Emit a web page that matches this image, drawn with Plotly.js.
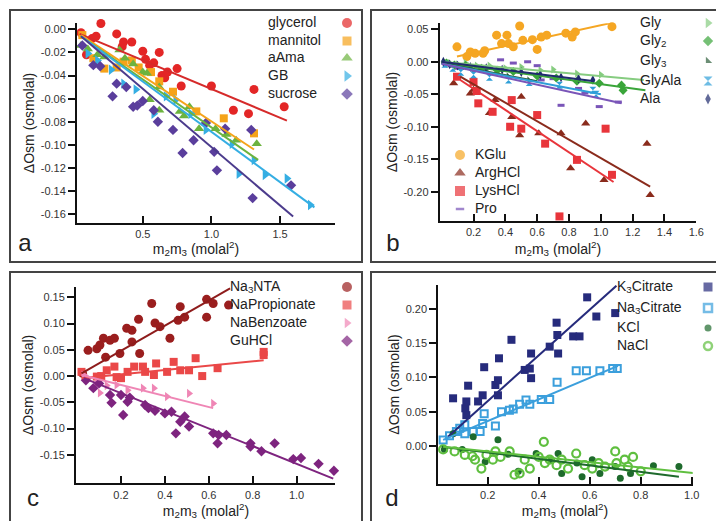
<!DOCTYPE html>
<html><head><meta charset="utf-8">
<script src="https://cdn.plot.ly/plotly-3.0.1.min.js"></script>
<style>html,body{margin:0;padding:0;background:#fff}#chart{width:716px;height:521px}</style>
</head><body><div id="chart"></div>
<script>
// ---------- Panel a ----------
const glycerolX=[0.05,0.09,0.13,0.16,0.195,0.31,0.35,0.36,0.42,0.5,0.52,0.55,0.58,0.62,0.64,0.66,0.68,0.75,0.78,1.0,1.16,1.27,1.31,1.53];
const glycerolY=[-0.003,-0.022,-0.008,-0.006,0.005,-0.004,-0.015,-0.011,-0.011,-0.019,-0.026,-0.031,-0.029,-0.020,-0.040,-0.042,-0.037,-0.034,-0.049,-0.049,-0.070,-0.073,-0.052,-0.067];
const glycerolFitX=[0.04,1.55], glycerolFitY=[-0.004,-0.079];
const mannitolX=[0.06,0.14,0.22,0.31,0.36,0.42,0.47,0.56,0.62,0.72,0.89,1.09,1.31];
const mannitolY=[-0.005,-0.025,-0.034,-0.033,-0.028,-0.027,-0.033,-0.037,-0.045,-0.054,-0.071,-0.077,-0.090];
const mannitolFitX=[0.05,1.31], mannitolFitY=[-0.005,-0.104];
const aAmaX=[0.05,0.1,0.17,0.22,0.33,0.37,0.43,0.5,0.53,0.55,0.62,0.62,0.77,0.8,0.84,0.91,1.03,1.11,1.18,1.33];
const aAmaY=[-0.014,-0.017,-0.022,-0.024,-0.018,-0.025,-0.030,-0.037,-0.038,-0.061,-0.050,-0.070,-0.071,-0.075,-0.067,-0.086,-0.086,-0.091,-0.096,-0.099];
const aAmaFitX=[0.05,1.34], aAmaFitY=[-0.006,-0.113];
const gbX=[0.1,0.17,0.27,0.36,0.45,0.58,0.67,0.74,0.85,0.96,1.15,1.2,1.31,1.39,1.55,1.72];
const gbY=[-0.021,-0.027,-0.035,-0.047,-0.052,-0.073,-0.058,-0.061,-0.073,-0.087,-0.099,-0.125,-0.113,-0.126,-0.129,-0.152];
const gbFitX=[0.05,1.75], gbFitY=[-0.006,-0.154];
const sucroseX=[0.06,0.14,0.19,0.28,0.31,0.38,0.43,0.46,0.5,0.58,0.61,0.72,0.79,0.87,0.96,1.02,1.04,1.10,1.29,1.30,1.58];
const sucroseY=[-0.014,-0.031,-0.032,-0.058,-0.047,-0.050,-0.067,-0.066,-0.062,-0.070,-0.080,-0.087,-0.107,-0.096,-0.081,-0.106,-0.122,-0.086,-0.087,-0.146,-0.135];
const sucroseFitX=[0.05,1.595], sucroseFitY=[-0.006,-0.162];
const aXTickVals=[0.5,1.0,1.5], aXTickText=['0.5','1.0','1.5'];
const aYTickVals=[0,-0.02,-0.04,-0.06,-0.08,-0.10,-0.12,-0.14,-0.16];
const aYTickText=['0.00','-0.02','-0.04','-0.06','-0.08','-0.10','-0.12','-0.14','-0.16'];

// ---------- Panel b ----------
const kgluX=[0.096,0.158,0.18,0.21,0.26,0.27,0.345,0.376,0.41,0.42,0.45,0.49,0.51,0.57,0.60,0.625,0.66,0.78,0.82,0.84,1.07];
const kgluY=[0.023,0.008,0.015,0.013,0.013,0.017,0.041,0.028,0.041,0.028,0.023,0.055,0.033,0.034,0.019,0.038,0.041,0.044,0.038,0.046,0.054];
const kgluFitX=[0.096,1.07], kgluFitY=[0.008,0.060];
const argX=[0.075,0.18,0.2,0.30,0.335,0.44,0.49,0.50,0.61,0.75,0.81,0.905,1.02,1.29,1.31];
const argY=[-0.033,-0.049,-0.043,-0.079,-0.059,-0.085,-0.113,-0.054,-0.11,-0.11,-0.164,-0.095,-0.182,-0.126,-0.205];
const argFitX=[0.117,1.31], argFitY=[-0.023,-0.192];
const lysX=[0.096,0.2,0.22,0.23,0.32,0.43,0.44,0.5,0.6,0.65,0.74,0.85,1.03,1.07];
const lysY=[-0.023,-0.031,-0.045,-0.064,-0.077,-0.100,-0.059,-0.103,-0.082,-0.126,-0.238,-0.151,-0.103,-0.174];
const lysFitX=[0.117,1.08], lysFitY=[-0.028,-0.185];
const proX=[0.02,0.06,0.1,0.15,0.2,0.3,0.37,0.45,0.54,0.6,0.625,0.7,0.75,0.86,0.9,0.99,1.11];
const proY=[-0.002,-0.006,-0.01,-0.004,-0.012,-0.01,0.003,-0.002,0.0,-0.006,-0.028,-0.026,-0.067,-0.041,-0.048,-0.069,-0.062];
const proFitX=[0.0,1.13], proFitY=[-0.003,-0.064];
const glyX=[0.02,0.05,0.1,0.15,0.22,0.3,0.4,0.5,0.62,0.7,0.85,1.0];
const glyY=[0.0,-0.002,-0.004,-0.002,-0.006,-0.006,-0.01,-0.008,-0.013,-0.012,-0.018,-0.02];
const glyFitX=[0.0,1.27], glyFitY=[0.0,-0.028];
const gly2X=[0.03,0.08,0.15,0.25,0.35,0.45,0.6,0.72,0.85,0.99,1.13,1.14];
const gly2Y=[-0.002,-0.005,-0.006,-0.01,-0.013,-0.015,-0.022,-0.025,-0.03,-0.033,-0.036,-0.044];
const gly2FitX=[0.0,1.28], gly2FitY=[-0.001,-0.044];
const gly3X=[0.02,0.06,0.12,0.2,0.3,0.42,0.55];
const gly3Y=[-0.003,-0.006,-0.01,-0.013,-0.018,-0.022,-0.028];
const gly3FitX=[0.0,0.6], gly3FitY=[-0.002,-0.030];
const glyalaX=[0.02,0.07,0.12,0.2,0.3,0.42,0.55,0.74,0.95,0.97];
const glyalaY=[-0.004,-0.01,-0.016,-0.02,-0.024,-0.028,-0.032,-0.036,-0.044,-0.05];
const glyalaFitX=[0.0,1.0], glyalaFitY=[-0.003,-0.05];
const alaX=[0.01,0.05,0.1,0.18,0.28,0.38,0.5,0.62,0.75,0.86,0.95];
const alaY=[0.0,-0.004,-0.006,-0.008,-0.01,-0.012,-0.016,-0.02,-0.024,-0.026,-0.028];
const alaFitX=[0.0,0.96], alaFitY=[0.0,-0.03];
const bXTickVals=[0.2,0.4,0.6,0.8,1.0,1.2,1.4,1.6], bXTickText=['0.2','0.4','0.6','0.8','1.0','1.2','1.4','1.6'];
const bYTickVals=[0.05,0,-0.05,-0.10,-0.15,-0.20], bYTickText=['0.05','0.00','-0.05','-0.10','-0.15','-0.20'];

// ---------- Panel c ----------
const ntaX=[0.025,0.05,0.09,0.104,0.12,0.13,0.15,0.17,0.195,0.226,0.25,0.25,0.28,0.285,0.34,0.355,0.378,0.423,0.46,0.47,0.49,0.59,0.59,0.62,0.69];
const ntaY=[0.005,0.049,0.052,0.059,0.072,0.036,0.068,0.072,0.043,0.091,0.087,0.065,0.108,0.043,0.138,0.101,0.094,0.072,0.106,0.132,0.112,0.146,0.112,0.138,0.135];
const ntaFitX=[0.02,0.697], ntaFitY=[0.005,0.167];
const propX=[0.02,0.09,0.11,0.135,0.17,0.18,0.2,0.23,0.26,0.30,0.31,0.35,0.36,0.41,0.44,0.47,0.51,0.54,0.57,0.64,0.85,0.85];
const propY=[0.008,-0.001,0.0,0.011,0.018,-0.002,-0.004,0.008,0.018,0.018,0.008,0.002,0.024,0.008,0.027,0.011,0.011,0.034,0.0,0.015,0.040,0.046];
const propFitX=[0.02,0.85], propFitY=[-0.004,0.030];
const benzX=[0.03,0.05,0.09,0.104,0.135,0.18,0.23,0.30,0.35,0.41,0.51,0.62];
const benzY=[0.002,-0.004,-0.014,-0.032,-0.018,-0.017,-0.027,-0.023,-0.023,-0.039,-0.033,-0.052];
const benzFitX=[0.02,0.62], benzFitY=[0.002,-0.061];
const guX=[0.04,0.074,0.1,0.15,0.157,0.2,0.21,0.23,0.24,0.31,0.325,0.355,0.4,0.43,0.45,0.47,0.49,0.51,0.62,0.64,0.645,0.68,0.79,0.79,0.84,0.9,0.985,1.02,1.1,1.17];
const guY=[-0.008,-0.023,-0.014,-0.036,-0.051,-0.036,-0.074,-0.049,-0.041,-0.055,-0.061,-0.066,-0.071,-0.068,-0.109,-0.087,-0.077,-0.096,-0.109,-0.128,-0.112,-0.112,-0.128,-0.134,-0.143,-0.128,-0.158,-0.156,-0.167,-0.180];
const guFitX=[0.03,1.167], guFitY=[-0.004,-0.195];
const cXTickVals=[0.2,0.4,0.6,0.8,1.0], cXTickText=['0.2','0.4','0.6','0.8','1.0'];
const cYTickVals=[0.15,0.10,0.05,0,-0.05,-0.10,-0.15], cYTickText=['0.15','0.10','0.05','0.00','-0.05','-0.10','-0.15'];

// ---------- Panel d ----------
const k3cX=[0.064,0.112,0.116,0.116,0.123,0.162,0.18,0.186,0.23,0.24,0.24,0.244,0.293,0.345,0.365,0.37,0.37,0.443,0.47,0.473,0.476,0.535,0.56,0.59,0.626,0.70];
const k3cY=[0.0696,0.055,0.045,0.065,0.088,0.065,0.074,0.115,0.089,0.074,0.096,0.128,0.155,0.111,0.113,0.135,0.099,0.145,0.18,0.162,0.135,0.16,0.16,0.217,0.189,0.194];
const k3cFitX=[0.044,0.705], k3cFitY=[0.0136,0.234];
const na3cX=[0.025,0.05,0.077,0.09,0.11,0.11,0.143,0.17,0.18,0.186,0.23,0.254,0.285,0.30,0.325,0.35,0.365,0.41,0.443,0.472,0.547,0.587,0.64,0.69,0.708];
const na3cY=[0.0088,0.015,0.021,0.026,0.031,0.018,0.021,0.021,0.033,0.047,0.029,0.05,0.052,0.054,0.061,0.067,0.061,0.068,0.068,0.093,0.11,0.11,0.11,0.113,0.113];
const na3cFitX=[0.025,0.711], na3cFitY=[0.0088,0.117];
const kclX=[0.03,0.064,0.1,0.143,0.19,0.24,0.28,0.32,0.39,0.45,0.476,0.49,0.55,0.57,0.61,0.64,0.70,0.72,0.76,0.85,0.95];
const kclY=[-0.005,0.018,-0.005,0.0136,-0.023,0.009,-0.012,-0.037,-0.011,-0.02,-0.011,-0.04,-0.025,-0.045,-0.02,-0.04,-0.03,-0.047,-0.04,-0.029,-0.03];
const kclFitX=[0.02,0.95], kclFitY=[-0.001,-0.045];
const naclX=[0.025,0.07,0.11,0.14,0.15,0.175,0.195,0.22,0.23,0.25,0.286,0.305,0.325,0.345,0.365,0.4,0.42,0.424,0.443,0.47,0.49,0.515,0.547,0.58,0.61,0.635,0.66,0.7,0.705,0.737,0.75,0.77,0.8,1.018];
const naclY=[-0.005,-0.008,-0.013,-0.015,-0.02,-0.033,-0.013,-0.02,-0.008,-0.016,-0.008,-0.042,-0.04,-0.02,-0.033,-0.016,0.006,-0.025,-0.02,-0.028,-0.02,-0.033,-0.011,-0.028,-0.033,-0.025,-0.03,-0.008,-0.025,-0.02,-0.03,-0.016,-0.037,-0.033];
const naclFitX=[0.025,1.018], naclFitY=[-0.001,-0.04];
const dXTickVals=[0.2,0.4,0.6,0.8,1.0], dXTickText=['0.2','0.4','0.6','0.8','1.0'];
const dYTickVals=[0.20,0.15,0.10,0.05,0], dYTickText=['0.20','0.15','0.10','0.05','0.00'];

// legend labels
const legendA=['glycerol','mannitol','aAma','GB','sucrose'];
const legendB1=['Gly','Gly<sub>2</sub>','Gly<sub>3</sub>','GlyAla','Ala'];
const legendB2=['KGlu','ArgHCl','LysHCl','Pro'];
const legendC=['Na<sub>3</sub>NTA','NaPropionate','NaBenzoate','GuHCl'];
const legendD=['K<sub>3</sub>Citrate','Na<sub>3</sub>Citrate','KCl','NaCl'];
const panelLetters=['a','b','c','d'];

// ---------- build ----------
const W=716,H=521;
const FONT='Arial, "Liberation Sans", sans-serif';
const traces=[];
function pts(x,y,ax,symbol,color,size,extra){
  const m=Object.assign({symbol:symbol,color:color,size:size,line:{width:0}},extra||{});
  traces.push({type:'scatter',mode:'markers',x:x,y:y,xaxis:ax[0],yaxis:ax[1],marker:m,cliponaxis:false,hoverinfo:'skip'});
}
function fit(x,y,ax,color,width){
  traces.push({type:'scatter',mode:'lines',x:x,y:y,xaxis:ax[0],yaxis:ax[1],line:{color:color,width:width||2},cliponaxis:false,hoverinfo:'skip'});
}
const A=['x','y'],B=['x2','y2'],C=['x3','y3'],D=['x4','y4'];
const col={glycerol:'#e32626',mannitol:'#f5a31a',aama:'#6cb33e',gb:'#35aee3',sucrose:'#5a3e9c',
 kglu:'#f5a623',arg:'#8a2b1c',lys:'#e8353b',pro:'#7a55b8',gly:'#86cc80',gly2:'#3aa53a',gly3:'#2d5e3a',glyala:'#2f9fd8',ala:'#1f2b6e',
 nta:'#9a1e1e',prop:'#ea4848',benz:'#ef86b5',gu:'#7e247f',k3c:'#262b7c',na3c:'#3b9fdc',kcl:'#1e6a2c',nacl:'#5fbf3f'};

// panel a
pts(glycerolX,glycerolY,A,'circle',col.glycerol,9);
pts(mannitolX,mannitolY,A,'square',col.mannitol,8);
pts(aAmaX,aAmaY,A,'triangle-up',col.aama,9);
pts(gbX,gbY,A,'triangle-right',col.gb,9);
pts(sucroseX,sucroseY,A,'diamond',col.sucrose,8);
fit(glycerolFitX,glycerolFitY,A,'#d62a2a');
fit(mannitolFitX,mannitolFitY,A,col.mannitol);
fit(aAmaFitX,aAmaFitY,A,col.aama);
fit(gbFitX,gbFitY,A,col.gb);
fit(sucroseFitX,sucroseFitY,A,'#4b3b8c');
// panel b
pts(kgluX,kgluY,B,'circle',col.kglu,9);
pts(argX,argY,B,'triangle-up',col.arg,8);
pts(lysX,lysY,B,'square',col.lys,8);
pts(proX,proY,B,'line-ew',col.pro,5,{line:{color:col.pro,width:3}});
pts(glyX,glyY,B,'triangle-right',col.gly,7);
pts(gly2X,gly2Y,B,'diamond',col.gly2,7);
pts(gly3X,gly3Y,B,'triangle-sw',col.gly3,6);
pts(glyalaX,glyalaY,B,'hourglass',col.glyala,7);
pts(alaX,alaY,B,'diamond-tall',col.ala,7);
fit(kgluFitX,kgluFitY,B,col.kglu);
fit(argFitX,argFitY,B,col.arg);
fit(lysFitX,lysFitY,B,col.lys);
fit(glyFitX,glyFitY,B,col.gly);
fit(gly2FitX,gly2FitY,B,col.gly2);
fit(gly3FitX,gly3FitY,B,col.gly3);
fit(glyalaFitX,glyalaFitY,B,col.glyala);
fit(alaFitX,alaFitY,B,col.ala);
fit(proFitX,proFitY,B,col.pro);
// panel c
pts(ntaX,ntaY,C,'circle',col.nta,9);
pts(propX,propY,C,'square',col.prop,8);
pts(benzX,benzY,C,'triangle-right',col.benz,8);
pts(guX,guY,C,'diamond',col.gu,8);
fit(ntaFitX,ntaFitY,C,'#8e1c1c');
fit(propFitX,propFitY,C,col.prop);
fit(benzFitX,benzFitY,C,col.benz);
fit(guFitX,guFitY,C,col.gu);
// panel d
pts(k3cX,k3cY,D,'square',col.k3c,8);
pts(na3cX,na3cY,D,'square-open',col.na3c,7,{line:{color:col.na3c,width:2}});
pts(kclX,kclY,D,'circle',col.kcl,7);
pts(naclX,naclY,D,'circle-open',col.nacl,8,{line:{color:col.nacl,width:2.2}});
fit(k3cFitX,k3cFitY,D,col.k3c);
fit(na3cFitX,na3cFitY,D,col.na3c);
fit(kclFitX,kclFitY,D,col.kcl);
fit(naclFitX,naclFitY,D,col.nacl);

// legend markers + texts on a pixel overlay axis
const legX=[347,347,347,347,347, 708,708,708,708,708, 460,460,460,460, 347,347,347,347, 708,708,708,708];
const legY=[23,41,58,76,94, 23,41,61,81,99, 155,173,191,209, 287,305,323,341, 287,308,328,346];
const legSym=['circle','square','triangle-up','triangle-right','diamond','triangle-right','diamond','triangle-sw','hourglass','diamond-tall','circle','triangle-up','square','line-ew','circle','square','triangle-right','diamond','square','square-open','circle','circle-open'];
const legCol=[col.glycerol,col.mannitol,col.aama,col.gb,col.sucrose,col.gly,col.gly2,col.gly3,col.glyala,col.ala,col.kglu,col.arg,col.lys,col.pro,col.nta,col.prop,col.benz,col.gu,col.k3c,col.na3c,col.kcl,col.nacl];
const legSize=[10,9,10,10,9, 9,8,7,9,8, 10,10,10,6, 10,9,9,9, 9,8,7,8];
traces.push({type:'scatter',mode:'markers',x:legX,y:legY,xaxis:'x5',yaxis:'y5',cliponaxis:false,hoverinfo:'skip',
  marker:{symbol:legSym,color:legCol,size:legSize,line:{color:legCol,width:legSym.map(s=>(s.indexOf('open')>=0||s==='line-ew')?2.5:0)}}});
const legText=[].concat(legendA,legendB1,legendB2,legendC,legendD);
const legTX=[].concat(legendA.map(()=>268),legendB1.map(()=>640),legendB2.map(()=>475),legendC.map(()=>230),legendD.map(()=>617));
const legTY=[23,41,58,76,94, 23,41,61,81,99, 155,173,191,209, 287,305,323,341, 287,308,328,346];
traces.push({type:'scatter',mode:'text',x:legTX,y:legTY,text:legText,textposition:'middle right',xaxis:'x5',yaxis:'y5',cliponaxis:false,hoverinfo:'skip',
  textfont:{family:FONT,size:14,color:'#222'}});
const xtitle='m<sub>2</sub>m<sub>3</sub> (molal<sup>2</sup>)';
traces.push({type:'scatter',mode:'text',x:[196,558,206,565],y:[250,250,512,512],text:[xtitle,xtitle,xtitle,xtitle],textposition:'middle center',
  xaxis:'x5',yaxis:'y5',cliponaxis:false,hoverinfo:'skip',textfont:{family:FONT,size:14,color:'#222'}});
traces.push({type:'scatter',mode:'text',x:[25,393,33,392],y:[245,245,500,500],text:panelLetters,textposition:'middle center',
  xaxis:'x5',yaxis:'y5',cliponaxis:false,hoverinfo:'skip',textfont:{family:FONT,size:24,color:'#222'}});

function dx(a,b){return [a/W,b/W];}
function dy(top,bot){return [1-bot/H,1-top/H];}
const tickFont={family:FONT,size:11,color:'#333'};
function xa(dom,range,vals,text,anchor){
  return {domain:dom,range:range,anchor:anchor,showline:true,linecolor:'#111',linewidth:2,ticks:'inside',ticklen:7,tickwidth:1.5,tickcolor:'#111',
    tickvals:vals,ticktext:text,tickfont:tickFont,showgrid:false,zeroline:false,fixedrange:true};
}
function ya(dom,range,vals,text,anchor){
  return {domain:dom,range:range,anchor:anchor,showline:true,linecolor:'#111',linewidth:2,ticks:'outside',ticklen:7,tickwidth:1.5,tickcolor:'#111',
    tickvals:vals,ticktext:text,tickfont:tickFont,showgrid:false,zeroline:false,fixedrange:true,
    title:{text:'ΔOsm (osmolal)',font:{family:FONT,size:14,color:'#222'},standoff:3}};
}

const frame={type:'rect',xref:'paper',yref:'paper',line:{color:'#444',width:2},fillcolor:'rgba(0,0,0,0)'};
function box(x0,y0,x1,y1){return Object.assign({},frame,{x0:x0/W,x1:x1/W,y0:1-y1/H,y1:1-y0/H});}
const shapes=[box(10,10,362,262),box(371,10,730,262),box(10,272,362,540),box(371,272,730,540)];

const layout={width:W,height:H,margin:{l:0,r:0,t:0,b:0},paper_bgcolor:'#fff',plot_bgcolor:'rgba(0,0,0,0)',showlegend:false,
  font:{family:FONT,size:14,color:'#222'},
  xaxis:xa(dx(77,335),[0.021,1.90],aXTickVals,aXTickText,'y'),
  yaxis:ya(dy(23.3,222.7),[-0.1673,0.0052],aYTickVals,aYTickText,'x'),
  xaxis2:xa(dx(439.7,696.3),[-0.0126,1.6],bXTickVals,bXTickText,'y2'),
  yaxis2:ya(dy(23.3,220.7),[-0.2446,0.0592],bYTickVals,bYTickText,'x2'),
  xaxis3:xa(dx(76,335),[-0.005,1.175],cXTickVals,cXTickText,'y3'),
  yaxis3:ya(dy(286.7,483.3),[-0.204,0.17],cYTickVals,cYTickText,'x3'),
  xaxis4:xa(dx(438.3,692.7),[0.006,1.004],dXTickVals,dXTickText,'y4'),
  yaxis4:ya(dy(285,484),[-0.0555,0.235],dYTickVals,dYTickText,'x4'),
  xaxis5:{domain:[0,1],range:[0,W],anchor:'y5',visible:false,fixedrange:true},
  yaxis5:{domain:[0,1],range:[H,0],anchor:'x5',visible:false,fixedrange:true},
  shapes:shapes};
Plotly.newPlot('chart',traces,layout,{displayModeBar:false});
</script></body></html>
